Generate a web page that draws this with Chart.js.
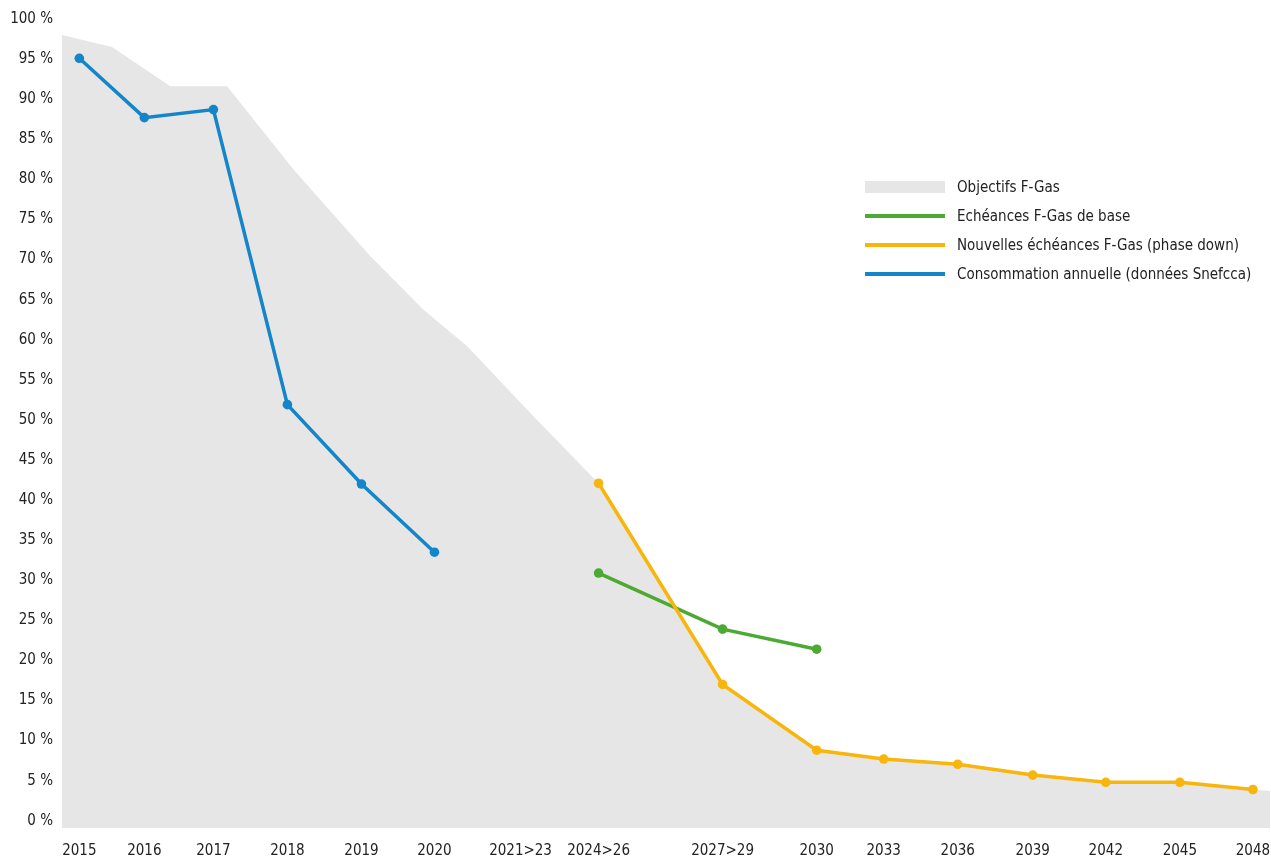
<!DOCTYPE html>
<html>
<head>
<meta charset="utf-8">
<script src="https://cdn.jsdelivr.net/npm/chart.js@4"></script>
<style>
  html, body { margin: 0; padding: 0; background: #fff; }
  #wrap { position: relative; width: 1271px; height: 861px; }
  #legend { position: absolute; left: 865px; top: 172px; font-family: "DejaVu Sans Condensed", "DejaVu Sans", sans-serif; font-size: 15px; color: #222; white-space: nowrap; }
  .item { display: flex; align-items: center; height: 29px; }
  .swatch { width: 80px; margin-right: 12px; }
</style>
</head>
<body>
<div id="wrap">
  <canvas id="chart" width="1271" height="861"></canvas>
  <div id="legend"></div>
</div>
<script>
const FONT = '"DejaVu Sans Condensed", "DejaVu Sans", sans-serif';

// category labels and where they sit along the (uneven) axis
const labels = ['2015', '2016', '2017', '2018', '2019', '2020', '2021>23', '2024>26', '2027>29',
  '2030', '2033', '2036', '2039', '2042', '2045', '2048'];
const xPos = [0, 0.883, 1.821, 2.826, 3.832, 4.823, 5.992, 7.052, 8.736,
  10.014, 10.924, 11.929, 12.948, 13.940, 14.946, 15.938];

// consommation annuelle 2015-2020
const conso = [95.1, 87.7, 88.7, 51.9, 42.0, 33.5];
// echeances de base : 2024>26, 2027>29, 2030
const base = [30.9, 23.9, 21.4];
// nouvelles echeances : 2024>26 -> 2048
const phaseDown = [42.1, 17.0, 8.8, 7.7, 7.05, 5.7, 4.8, 4.8, 3.9];

// objectifs F-Gas (gray area outline)
const objX = [-0.235, 0.444, 1.236, 2.007, 2.912, 3.954, 4.678, 5.268, 6.173, 7.052, 8.736,
  10.014, 10.924, 11.929, 12.948, 13.940, 14.946, 15.938, 16.17];
const objY = [98.0, 96.5, 91.6, 91.6, 81.2, 70.4, 63.7, 59.2, 50.4, 42.1, 17.0,
  8.8, 7.7, 7.05, 5.7, 4.8, 4.8, 3.9, 3.7];

const names = ['Objectifs F-Gas', 'Echéances F-Gas de base',
  'Nouvelles échéances F-Gas (phase down)', 'Consommation annuelle (données Snefcca)'];
const colors = ['#e6e6e6', '#4caa32', '#f8b50c', '#1485c8'];

const yTicks = [];
for (let v = 0; v <= 100; v += 5) yTicks.push(v);

function pts(vals, start) {
  return vals.map((v, i) => ({ x: xPos[start + i], y: v }));
}

function lineSet(label, color, data, order) {
  return {
    label: label, data: data, borderColor: color, backgroundColor: color,
    borderWidth: 3.5, pointRadius: 4.8, pointBorderWidth: 0, pointBackgroundColor: color,
    fill: false, tension: 0, order: order
  };
}

new Chart(document.getElementById('chart'), {
  type: 'line',
  data: {
    datasets: [
      {
        label: names[0], data: objX.map((x, i) => ({ x: x, y: objY[i] })),
        borderWidth: 0, borderColor: 'rgba(0,0,0,0)', backgroundColor: colors[0],
        pointRadius: 0, fill: 'start', order: 10
      },
      lineSet(names[1], colors[1], pts(base, 7), 2),
      lineSet(names[2], colors[2], pts(phaseDown, 7), 1),
      lineSet(names[3], colors[3], pts(conso, 0), 3)
    ]
  },
  options: {
    responsive: false,
    animation: false,
    layout: { autoPadding: false, padding: { top: 19, right: 1, left: 0, bottom: 0 } },
    plugins: { legend: { display: false }, tooltip: { enabled: false } },
    scales: {
      x: {
        type: 'linear', min: -0.235, max: 16.17,
        grid: { display: false, tickLength: 14 }, border: { display: false },
        afterBuildTicks: (axis) => { axis.ticks = xPos.map(v => ({ value: v })); },
        afterFit: (axis) => { axis.height = 33; },
        ticks: {
          autoSkip: false, maxRotation: 0, padding: 0, color: '#222',
          font: { family: FONT, size: 15 },
          callback: (v) => { const i = xPos.indexOf(v); return i >= 0 ? labels[i] : ''; }
        }
      },
      y: {
        min: -0.9, max: 100,
        grid: { display: false }, border: { display: false },
        afterBuildTicks: (axis) => { axis.ticks = yTicks.map(v => ({ value: v })); },
        afterFit: (axis) => { axis.width = 62; },
        ticks: {
          padding: 1, color: '#222',
          font: { family: FONT, size: 15 },
          callback: (v) => v + ' %'
        }
      }
    }
  }
});

// legend inside the plot, on the right
const legend = document.getElementById('legend');
names.forEach((n, i) => {
  const row = document.createElement('div');
  row.className = 'item';
  const sw = document.createElement('span');
  sw.className = 'swatch';
  sw.style.height = i === 0 ? '12px' : '4px';
  sw.style.background = colors[i];
  const txt = document.createElement('span');
  txt.textContent = n;
  row.appendChild(sw);
  row.appendChild(txt);
  legend.appendChild(row);
});
</script>
</body>
</html>
